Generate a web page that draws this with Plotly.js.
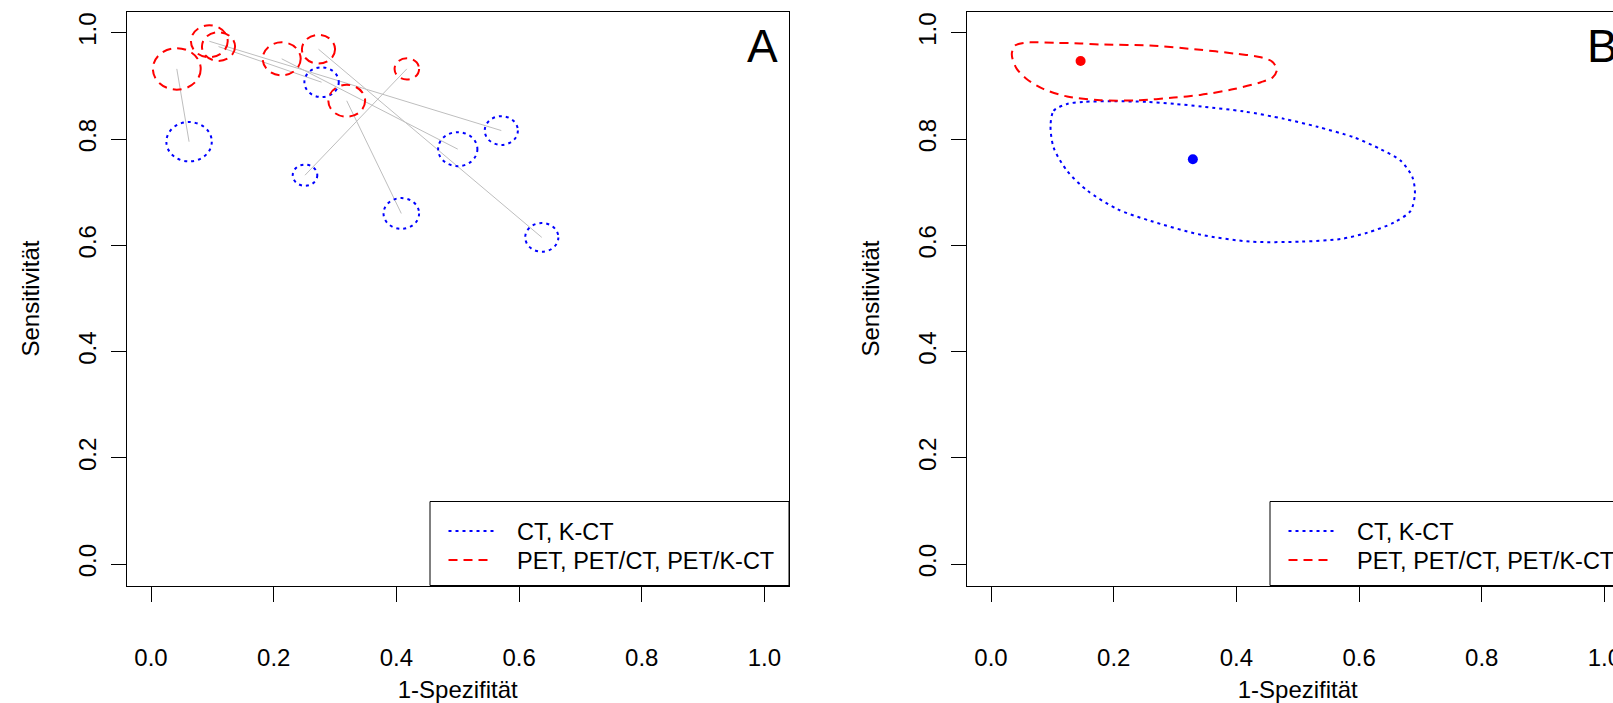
<!DOCTYPE html>
<html><head><meta charset="utf-8">
<script src="https://cdn.plot.ly/plotly-3.0.1.min.js"></script>
<style>html,body{margin:0;padding:0;overflow:hidden;background:#fff;} #chart{width:1660px;height:703px;}</style>
</head><body><div id="chart"></div>
<script>
// ---------- DATA ----------
// Panel A: single studies (1-specificity, sensitivity, circle radius in data units); index i = same study
const ctFpr   = [0.062, 0.571, 0.278, 0.500, 0.637, 0.408, 0.251];
const ctSens  = [0.795, 0.816, 0.907, 0.781, 0.615, 0.660, 0.732];
const ctSize  = [0.037, 0.027, 0.028, 0.032, 0.027, 0.029, 0.020];
const petFpr  = [0.042, 0.095, 0.110, 0.213, 0.273, 0.319, 0.417];
const petSens = [0.932, 0.984, 0.974, 0.951, 0.969, 0.872, 0.932];
const petSize = [0.039, 0.030, 0.027, 0.031, 0.027, 0.030, 0.020];

// Panel B: summary estimates [CT, PET]
const summaryFpr  = [0.329, 0.146];
const summarySens = [0.762, 0.947];
// Panel B: confidence regions
const ctRegionFpr  = [0.097,0.102,0.124,0.151,0.200,0.255,0.300,0.345,0.412,0.478,0.532,0.592,0.635,0.668,0.687,0.691,0.684,0.657,0.614,0.570,0.505,0.423,0.342,0.260,0.206,0.157,0.124,0.102,0.097];
const ctRegionSens = [0.825,0.853,0.866,0.870,0.871,0.870,0.866,0.861,0.852,0.838,0.823,0.803,0.781,0.759,0.728,0.697,0.665,0.643,0.624,0.612,0.607,0.607,0.620,0.646,0.668,0.703,0.740,0.784,0.825];
const petRegionFpr  = [0.034,0.039,0.064,0.105,0.145,0.178,0.259,0.341,0.396,0.440,0.459,0.466,0.459,0.440,0.396,0.341,0.298,0.243,0.178,0.124,0.086,0.058,0.042,0.035,0.034];
const petRegionSens = [0.962,0.976,0.982,0.981,0.980,0.978,0.976,0.968,0.961,0.954,0.945,0.930,0.916,0.907,0.894,0.883,0.878,0.873,0.873,0.880,0.894,0.913,0.932,0.951,0.962];

const seriesNames = ["CT, K-CT", "PET, PET/CT, PET/K-CT"];
const panelLabels = ["A", "B"];
const tickVals = [0, 0.2, 0.4, 0.6, 0.8, 1.0];
const tickText = ["0.0", "0.2", "0.4", "0.6", "0.8", "1.0"];
const xTitle = "1-Spezifität";
const yTitle = "Sensitivität";

// ---------- STYLE / LAYOUT ----------
const W = 1660, H = 703;
const BLUE = "#0000FF", RED = "#FF0000", GRAY = "#BEBEBE";
const DOT = "3px,4px", DASH = "9px,6px";
const FONT = "Liberation Sans, Arial, sans-serif";
const boxTop = 11.5, boxBottom = 585.5;
const panels = [{left: 126.5, right: 789}, {left: 966.5, right: 1629}];
const px = v => v / W, py = v => 1 - v / H;

// gray connector lines
const lx = [], ly = [];
for (let i = 0; i < ctFpr.length; i++) {
  lx.push(petFpr[i], ctFpr[i], null);
  ly.push(petSens[i], ctSens[i], null);
}

const traces = [
  {x: lx, y: ly, xaxis: "x", yaxis: "y", mode: "lines", line: {color: GRAY, width: 1}, hoverinfo: "skip", showlegend: false},
  {x: ctRegionFpr, y: ctRegionSens, xaxis: "x2", yaxis: "y2", mode: "lines", name: seriesNames[0],
   line: {color: BLUE, width: 2, dash: DOT, shape: "spline", smoothing: 0.8}, showlegend: false},
  {x: petRegionFpr, y: petRegionSens, xaxis: "x2", yaxis: "y2", mode: "lines", name: seriesNames[1],
   line: {color: RED, width: 2, dash: DASH, shape: "spline", smoothing: 0.8}, showlegend: false},
  {x: summaryFpr, y: summarySens, xaxis: "x2", yaxis: "y2", mode: "markers",
   marker: {color: [BLUE, RED], size: 10}, showlegend: false}
];

const shapes = [];
function addCircles(cx, cy, rr, color, dash) {
  for (let i = 0; i < cx.length; i++) {
    shapes.push({type: "circle", xref: "x", yref: "y",
      x0: cx[i] - rr[i], x1: cx[i] + rr[i], y0: cy[i] - rr[i], y1: cy[i] + rr[i],
      line: {color: color, width: 2, dash: dash}, layer: "above"});
  }
}
addCircles(ctFpr, ctSens, ctSize, BLUE, DOT);
addCircles(petFpr, petSens, petSize, RED, DASH);

const annotations = [];
// manual R-style legends
panels.forEach((p, k) => {
  const L = p.left;
  shapes.push({type: "rect", xref: "paper", yref: "paper", x0: px(L + 303.5), x1: px(p.right), y0: py(boxBottom), y1: py(501.5),
    line: {color: "#000", width: 1}, fillcolor: "#fff", layer: "above"});
  const rows = [531, 560];
  const cols = [BLUE, RED], dashes = [DOT, DASH];
  rows.forEach((ry, j) => {
    shapes.push({type: "line", xref: "paper", yref: "paper", x0: px(L + 322), x1: px(L + 367), y0: py(ry), y1: py(ry),
      line: {color: cols[j], width: 2, dash: dashes[j]}, layer: "above"});
    annotations.push({xref: "paper", yref: "paper", x: px(L + 388.5), y: py(ry + 1), xanchor: "left", yanchor: "middle",
      text: seriesNames[j], showarrow: false, font: {family: FONT, size: 23.5, color: "#000"}});
  });
  annotations.push({xref: k ? "x2" : "x", yref: k ? "y2" : "y", x: 0.997, y: 0.975, text: panelLabels[k],
    showarrow: false, xanchor: "center", yanchor: "middle", font: {family: FONT, size: 46, color: "#000"}});
});

function xAxis(p, anchor) {
  return {domain: [px(p.left), px(p.right)], range: [-0.04, 1.04], anchor: anchor,
    tickvals: tickVals, ticktext: tickText, ticks: "outside", ticklen: 15, tickwidth: 1, tickcolor: "#000",
    ticklabelstandoff: 36, showline: true, mirror: true, linecolor: "#000", linewidth: 1,
    showgrid: false, zeroline: false, tickfont: {family: FONT, size: 24, color: "#000"},
    title: {text: xTitle, font: {family: FONT, size: 24, color: "#000"}, standoff: 12}, fixedrange: true};
}
function yAxis(anchor) {
  return {domain: [py(boxBottom), py(boxTop)], range: [-0.04, 1.04], anchor: anchor,
    tickvals: tickVals, ticktext: tickText, ticks: "outside", ticklen: 15, tickwidth: 1, tickcolor: "#000",
    tickangle: -90, ticklabelstandoff: 5, showline: true, mirror: true, linecolor: "#000", linewidth: 1,
    showgrid: false, zeroline: false, tickfont: {family: FONT, size: 24, color: "#000"},
    title: {text: yTitle, font: {family: FONT, size: 24, color: "#000"}, standoff: 27}, fixedrange: true};
}

const layout = {
  width: W, height: H, margin: {l: 0, r: 0, t: 0, b: 0},
  paper_bgcolor: "#fff", plot_bgcolor: "#fff", showlegend: false,
  font: {family: FONT, size: 24, color: "#000"},
  xaxis: xAxis(panels[0], "y"), yaxis: yAxis("x"),
  xaxis2: xAxis(panels[1], "y2"), yaxis2: yAxis("x2"),
  shapes: shapes, annotations: annotations
};

Plotly.newPlot("chart", traces, layout, {displayModeBar: false, staticPlot: true});
</script>
</body></html>
